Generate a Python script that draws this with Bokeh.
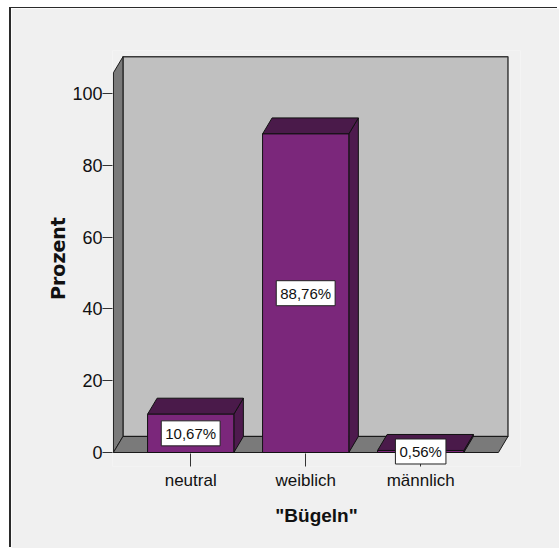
from bokeh.plotting import figure
from bokeh.models import Label, FixedTicker
from bokeh.embed import file_html
from bokeh.resources import INLINE

# ---- data ----
categories = ["neutral", "weiblich", "männlich"]
percent = [10.67, 88.76, 0.56]
value_labels = ["10,67%", "88,76%", "0,56%"]
y_ticks = [0, 20, 40, 60, 80, 100]
x_title = '"Bügeln"'
y_title = "Prozent"

xpos = [1, 2, 3]

# ---- 3D geometry (data units) ----
HALF = 0.375
DX = 0.083
DY = 4.46
X0, X1 = 0.328, 3.676
WALL_TOP = 105.8
Y_START = -3.9

FONT = "Liberation Sans"
W, H = 548, 540

p = figure(width=W, height=H, x_range=(0.32, 3.868), y_range=(Y_START, 112),
           output_backend="svg", toolbar_location=None,
           min_border_left=101, min_border_right=W - 509, min_border_top=42,
           min_border_bottom=H - 458)
p.styles = {"margin-left": "11px", "margin-top": "8px",
            "box-shadow": "-2px -1px 0px 0px #2a2a2a"}
p.background_fill_color = "#f0f0f0"
p.border_fill_color = "#f0f0f0"
p.outline_line_color = None
p.grid.visible = False

# back wall
p.patch([X0 + DX, X1 + DX, X1 + DX, X0 + DX], [DY, DY, WALL_TOP + DY, WALL_TOP + DY],
        fill_color="#c0c0c0", line_color="#3a3a3a", line_width=1.5)
# left wall
p.patch([X0, X0, X0 + DX, X0 + DX], [0, WALL_TOP, WALL_TOP + DY, DY],
        fill_color="#7a7a7a", line_color="#1a1a1a", line_width=1)
# floor
p.patch([X0, X1, X1 + DX, X0 + DX], [0, 0, DY, DY],
        fill_color="#7a7a7a", line_color="#1a1a1a", line_width=1)

# bars
for xc, v in zip(xpos, percent):
    l, r = xc - HALF, xc + HALF
    p.patch([r, r, r + DX, r + DX], [0, v, v + DY, DY],
            fill_color="#4e1a4e", line_color="#111111", line_width=1)
    p.patch([l, r, r + DX, l + DX], [v, v, v + DY, v + DY],
            fill_color="#4a1a4a", line_color="#111111", line_width=1)
    p.quad(left=l, right=r, bottom=0, top=v,
           fill_color="#7b277b", line_color="#111111", line_width=1)

for xc, v, t in zip(xpos, percent, value_labels):
    p.add_layout(Label(x=xc, y=v / 2, text=t, text_align="center", text_baseline="middle",
                       text_font=FONT, text_font_size="15px", text_color="#111111",
                       background_fill_color="white", border_line_color="#222222",
                       border_line_width=1, padding=4))

# axes
ya = p.yaxis[0]
ya.ticker = FixedTicker(ticks=y_ticks)
ya.axis_line_color = None
ya.major_tick_out = 10
ya.major_tick_in = 0
ya.minor_tick_line_color = None
ya.major_tick_line_color = "#333333"
ya.major_label_text_font = FONT
ya.major_label_text_font_size = "18px"
ya.major_label_text_color = "#111111"
ya.major_label_standoff = 0
ya.axis_label = y_title
ya.axis_label_text_font = "DejaVu Sans"
ya.axis_label_text_font_style = "bold"
ya.axis_label_text_font_size = "19px"
ya.axis_label_text_color = "#111111"
ya.axis_label_standoff = 0

xa = p.xaxis[0]
xa.ticker = FixedTicker(ticks=xpos)
xa.major_label_overrides = {x: c for x, c in zip(xpos, categories)}
xa.axis_line_color = None
xa.major_tick_out = 0
xa.major_tick_in = 13
xa.minor_tick_line_color = None
xa.major_tick_line_color = "#333333"
xa.major_label_text_font = FONT
xa.major_label_text_font_size = "17px"
xa.major_label_text_color = "#111111"
xa.major_label_standoff = 4
xa.axis_label = x_title
xa.axis_label_text_font = FONT
xa.axis_label_text_font_style = "bold"
xa.axis_label_text_font_size = "19px"
xa.axis_label_text_color = "#111111"
xa.axis_label_standoff = 12

open("out.html", "w").write(file_html(p, INLINE))
